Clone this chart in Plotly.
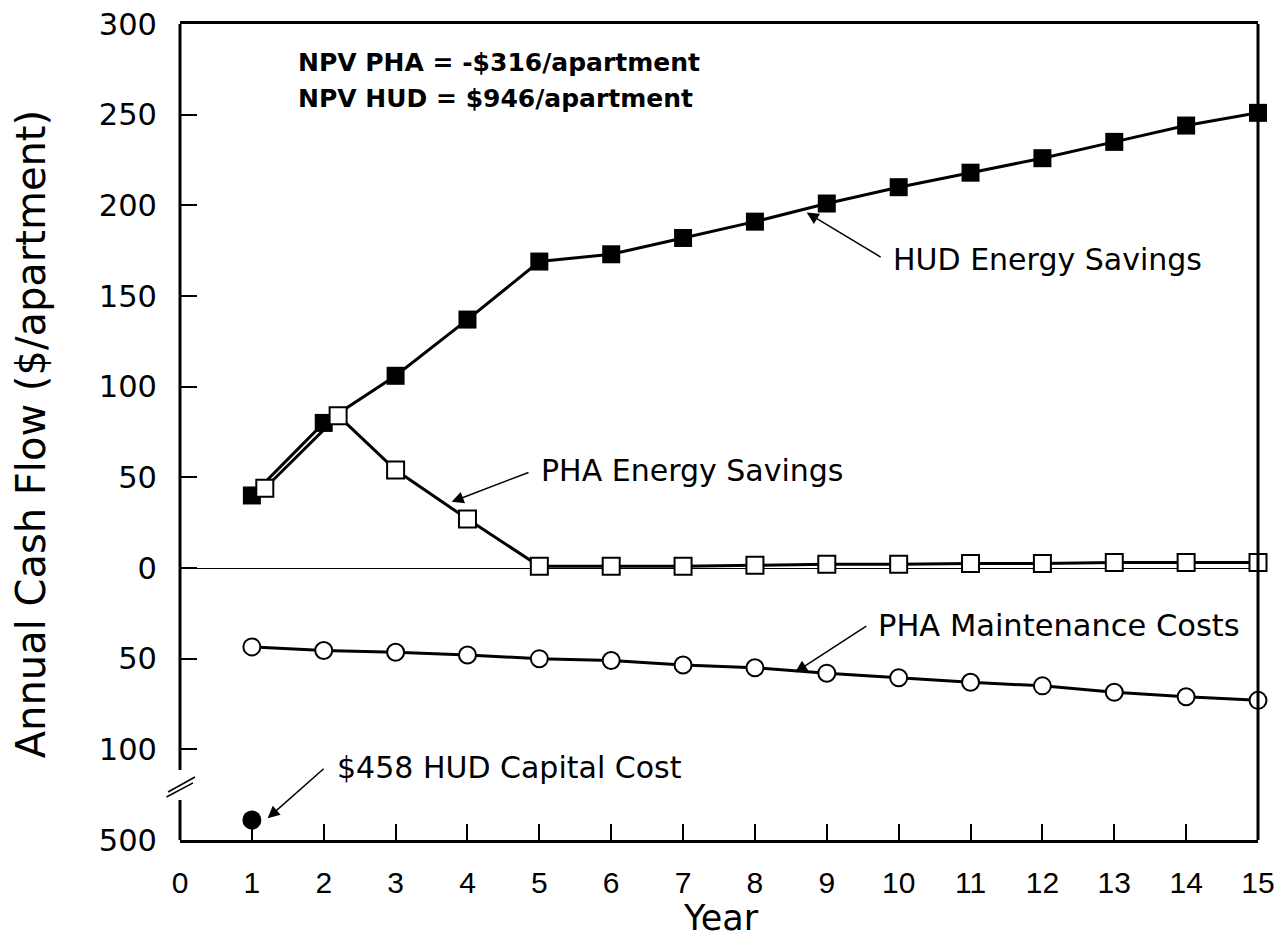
import plotly.graph_objects as go

# ---- data ----
years = list(range(1, 16))
hud_savings = [40, 80, 106, 137, 169, 173, 182, 191, 201, 210, 218, 226, 235, 244, 251]
pha_years = [1.18, 2.2, 3, 4, 5, 6, 7, 8, 9, 10, 11, 12, 13, 14, 15]
pha_savings = [44, 84, 54, 27, 1, 1, 1, 1.5, 2, 2, 2.5, 2.5, 3, 3, 3]
pha_maint_costs = [43.5, 45.5, 46.5, 48, 50, 51, 53.5, 55, 58, 60.5, 63, 65, 68.5, 71, 73]
capital_year = [1]
capital_cost = [458]

ytick_vals = [-150, -100, -50, 0, 50, 100, 150, 200, 250, 300]
ytick_text = ["500", "100", "50", "0", "50", "100", "150", "200", "250", "300"]
xtick_vals = list(range(0, 16))

# broken-axis mapping for the lower segment (label 500 at position -150)
BREAK_LABEL = 500
BREAK_POS = -150
BREAK_SCALE = 0.262


def broken(v):
    return BREAK_POS + (BREAK_LABEL - v) * BREAK_SCALE


FONT = "DejaVu Sans"
XFONT = "Liberation Sans"

fig = go.Figure()

fig.add_trace(go.Scatter(
    x=years, y=[-c for c in pha_maint_costs], mode="lines+markers",
    line=dict(color="black", width=3),
    marker=dict(symbol="circle", size=17, color="white", line=dict(color="black", width=2)),
    cliponaxis=False, name="PHA Maintenance Costs"))

fig.add_trace(go.Scatter(
    x=years, y=hud_savings, mode="lines+markers",
    line=dict(color="black", width=3),
    marker=dict(symbol="square", size=18, color="black"),
    cliponaxis=False, name="HUD Energy Savings"))

fig.add_trace(go.Scatter(
    x=pha_years, y=pha_savings, mode="lines+markers",
    line=dict(color="black", width=3),
    marker=dict(symbol="square", size=17, color="white", line=dict(color="black", width=2)),
    cliponaxis=False, name="PHA Energy Savings"))

fig.add_trace(go.Scatter(
    x=capital_year, y=[broken(v) for v in capital_cost], mode="markers",
    marker=dict(symbol="circle", size=19, color="black"),
    cliponaxis=False, name="HUD Capital Cost"))

annotations = []


def arrow(xh, yh, xt, yt):
    annotations.append(dict(
        x=xh, y=yh, ax=xt, ay=yt, xref="x", yref="y", axref="x", ayref="y",
        text="", showarrow=True, arrowhead=2, arrowsize=1.6, arrowwidth=1.5,
        arrowcolor="black", standoff=0, startstandoff=0))


def label(x, y, text, size=30, bold=False):
    annotations.append(dict(
        x=x, y=y, xref="x", yref="y", text=("<b>%s</b>" % text) if bold else text,
        showarrow=False, xanchor="left", yanchor="middle",
        font=dict(family=FONT, size=size, color="black")))


arrow(8.72, 196, 9.77, 171)
label(9.90, 170, "HUD Energy Savings")
arrow(3.78, 36.5, 4.87, 53)
label(5.00, 54, "PHA Energy Savings")
arrow(8.56, -57.5, 9.57, -31.5)
label(9.69, -31.5, "PHA Maintenance Costs", size=30.5)
arrow(1.22, -138, 2.02, -110)
label(2.15, -110, "$458 HUD Capital Cost")
label(1.62, 279, "NPV PHA = -$316/apartment", size=25, bold=True)
label(1.62, 259, "NPV HUD = $946/apartment", size=25, bold=True)

annotations.append(dict(
    x=-0.138, y=0.4975, xref="paper", yref="paper", text="Annual Cash Flow ($/apartment)",
    textangle=-90, showarrow=False, xanchor="center", yanchor="middle",
    font=dict(family=FONT, size=40, color="black")))
annotations.append(dict(
    x=0.502, y=-0.0956, xref="paper", yref="paper", text="Year",
    showarrow=False, xanchor="center", yanchor="middle",
    font=dict(family=FONT, size=35, color="black")))

# left axis drawn in two segments (axis break), right border, break marks
shapes = [
    dict(type="line", xref="paper", yref="paper", x0=0, x1=0, y0=0, y1=0.049,
         line=dict(color="black", width=3)),
    dict(type="line", xref="paper", yref="paper", x0=0, x1=0, y0=0.0858, y1=1,
         line=dict(color="black", width=3)),
    dict(type="line", xref="paper", yref="paper", x0=1, x1=1, y0=0, y1=1,
         line=dict(color="black", width=3)),
    dict(type="line", xref="paper", yref="paper", x0=-0.0125, x1=0.0121, y0=0.0527, y1=0.0699,
         line=dict(color="black", width=1.5)),
    dict(type="line", xref="paper", yref="paper", x0=-0.0111, x1=0.0139, y0=0.0588, y1=0.0772,
         line=dict(color="black", width=1.5)),
]

fig.update_layout(
    width=1275, height=945,
    margin=dict(l=180, r=17, t=24, b=105, autoexpand=False),
    paper_bgcolor="white", plot_bgcolor="white",
    showlegend=False,
    font=dict(family=FONT, color="black"),
    annotations=annotations,
    shapes=shapes,
    xaxis=dict(
        range=[0, 15], tickvals=xtick_vals, ticks="inside", ticklen=16, tickwidth=2,
        tickcolor="black", showline=True, linecolor="black", linewidth=3, mirror=True,
        showgrid=False, zeroline=False, tickfont=dict(family=XFONT, size=30, color="black"),
        ticklabelstandoff=14, ticklabeloverflow="allow", automargin=False),
    yaxis=dict(
        range=[-150, 300], tickvals=ytick_vals, ticktext=ytick_text, ticks="inside",
        ticklen=17, tickwidth=2, tickcolor="black", showline=False, showgrid=False,
        zeroline=True, zerolinecolor="black", zerolinewidth=1,
        tickfont=dict(family=FONT, size=30.5, color="black"), ticklabelstandoff=22,
        ticklabeloverflow="allow", automargin=False),
)

fig.write_html(
    "out.html",
    config={"displayModeBar": False},
    post_script="document.body.style.margin='0px';document.body.style.overflow='hidden';",
)
